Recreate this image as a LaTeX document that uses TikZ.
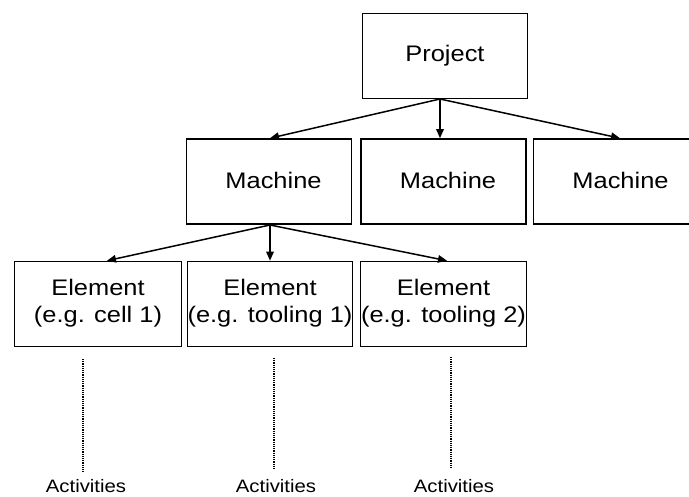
\documentclass[tikz,border=0pt]{standalone}
\usepackage{fontspec}
\setmainfont{Liberation Sans}[FakeStretch=1.13]
\usetikzlibrary{arrows.meta}

\tikzset{
  box/.style={draw, line width=1.6pt, minimum width=165pt, minimum height=85pt,
    inner sep=0pt, font=\fontsize{22.5}{26.7}\selectfont},
  link/.style={line width=1.5pt, -{Triangle[length=9pt,width=7.5pt]}},
  trail/.style={line width=1.6pt, dash pattern=on 1.2pt off 1pt},
  act/.style={anchor=base, inner sep=0pt, font=\fontsize{18}{21}\selectfont}
}
\newcommand{\twolines}[2]{\raisebox{6pt}{\begin{tabular}{@{}c@{}}#1\\#2\end{tabular}}}

\begin{document}
\begin{tikzpicture}[x=1pt, y=-1pt]
  \useasboundingbox (0,0) rectangle (689,497);
  \clip (0,0) rectangle (689,497);

  % top level
  \node[box] (pj) at (445,56) {Project};

  % machines
  \node[box] (m1) at (269,181.5) {\raisebox{2pt}{\hspace*{9pt}Machine}};
  \node[box] (m2) at (443.5,181.5) {\raisebox{2pt}{\hspace*{9pt}Machine}};
  \node[box] (m3) at (616,181.5) {\raisebox{2pt}{\hspace*{9pt}Machine}};

  % elements of the first machine
  \node[box, minimum width=167pt] (e1) at (98,304) {\twolines{Element}{(e.g. cell 1)}};
  \node[box] (e2) at (270,304) {\twolines{Element}{(e.g. tooling 1)}};
  \node[box, minimum width=166pt] (e3) at (443.5,304) {\twolines{Element}{(e.g. tooling 2)}};

  % activities
  \node[act] (a1) at (86,492.5) {Activities};
  \node[act] (a2) at (276,492.5) {Activities};
  \node[act] (a3) at (454,492.5) {Activities};

  % project -> machines
  \coordinate (p0) at (440,99);
  \draw[link] (p0) -- ([xshift=1pt]m1.north);
  \draw[link] (p0) -- (m2.north -| p0);
  \draw[link] (p0) -- ([xshift=4pt]m3.north);

  % machine -> elements
  \coordinate (q0) at (270,225);
  \draw[link] (q0) -- ([xshift=9pt]e1.north);
  \draw[link] (q0) -- (e2.north);
  \draw[link] (q0) -- ([xshift=3.5pt]e3.north);

  % dotted trails down to the activities
  \coordinate (t1) at (83,359);   \coordinate (b1) at (83,472);
  \coordinate (t2) at (274,358);  \coordinate (b2) at (274,470);
  \coordinate (t3) at (451,357);  \coordinate (b3) at (451,468);
  \draw[trail] (t1) -- (b1);
  \draw[trail] (t2) -- (b2);
  \draw[trail] (t3) -- (b3);
\end{tikzpicture}
\end{document}
